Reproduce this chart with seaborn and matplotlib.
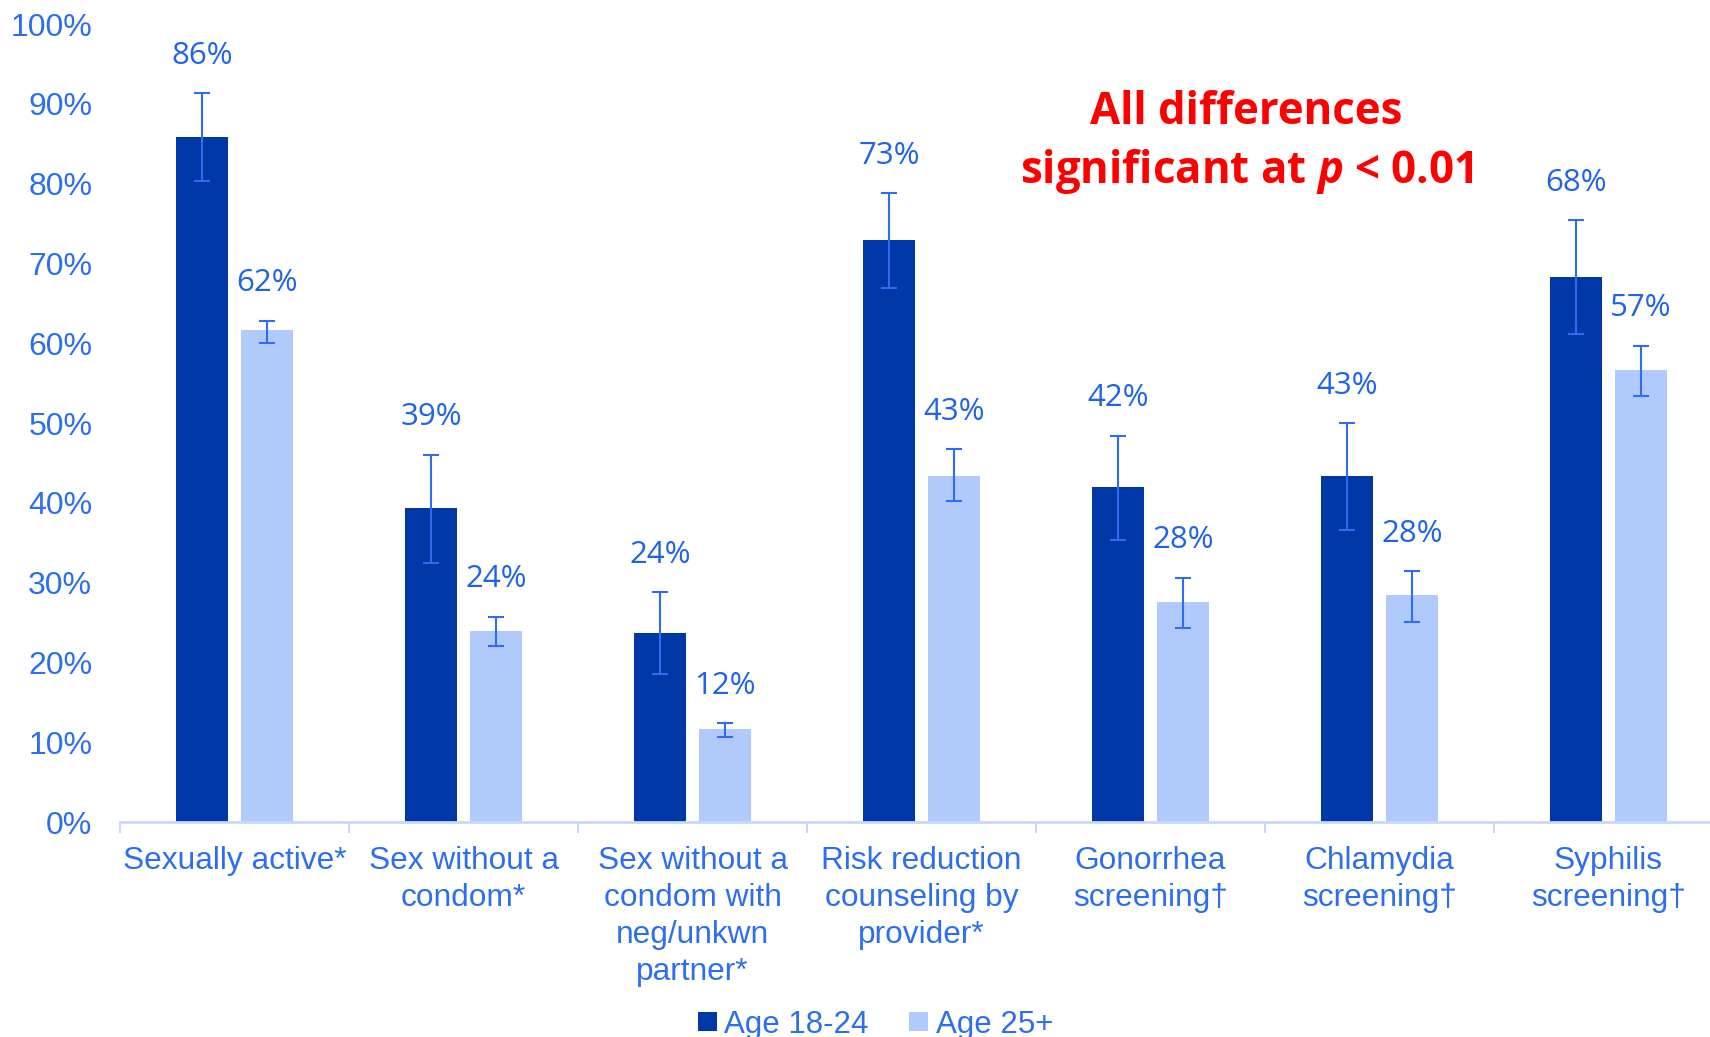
import matplotlib
matplotlib.use("Agg")
import matplotlib.pyplot as plt
from matplotlib.patches import Patch
import seaborn as sns
import pandas as pd
import numpy as np

categories = ["Sexually active*", "Sex without a\ncondom*", "Sex without a\ncondom with\nneg/unkwn\npartner*",
              "Risk reduction\ncounseling by\nprovider*", "Gonorrhea\nscreening\u2020", "Chlamydia\nscreening\u2020",
              "Syphilis\nscreening\u2020"]
groups = ["Age 18-24", "Age 25+"]
young = [85.8, 39.3, 23.7, 73.0, 42.0, 43.4, 68.3]
older = [61.6, 23.9, 11.6, 43.4, 27.6, 28.4, 56.7]
young_lo = [80.3, 32.5, 18.6, 66.9, 35.4, 36.6, 61.1]
young_hi = [91.3, 46.0, 28.8, 78.8, 48.4, 50.0, 75.4]
older_lo = [60.0, 22.0, 10.7, 40.2, 24.3, 25.1, 53.4]
older_hi = [62.8, 25.7, 12.4, 46.7, 30.6, 31.4, 59.7]
yticks = [0, 10, 20, 30, 40, 50, 60, 70, 80, 90, 100]

DARK = "#0038A8"
LIGHT = "#AFCAFB"
TXT = "#2B6EF2"
VAL = "#1F63EA"
ERR = "#2F6DF0"
AXIS = "#C8D9F8"

sns.set_theme(style="white")
plt.rcParams["font.family"] = ["Liberation Sans", "DejaVu Sans"]
plt.rcParams["mathtext.fontset"] = "custom"
plt.rcParams["mathtext.it"] = "Open Sans:bold:italic"
plt.rcParams["mathtext.rm"] = "Open Sans:bold"

df = pd.DataFrame({
    "category": categories * 2,
    "group": [groups[0]] * len(categories) + [groups[1]] * len(categories),
    "value": [v / 100 for v in young] + [v / 100 for v in older],
})

fig = plt.figure(figsize=(17.1, 10.37), dpi=100)
ax = fig.add_axes([0.0702, 0.2073, 0.9374, 0.7695])

sns.barplot(data=df, x="category", y="value", hue="group", order=categories, hue_order=groups,
            palette=[DARK, LIGHT], saturation=1, width=0.57, gap=0.21, errorbar=None,
            legend=False, ax=ax, edgecolor="none")

lows = [young_lo, older_lo]
highs = [young_hi, older_hi]
vals = [young, older]
bar_conts = list(ax.containers)
for ci, cont in enumerate(bar_conts):
    xs = [b.get_x() + b.get_width() / 2 for b in cont.patches]
    v = np.array(vals[ci]) / 100
    lo = np.array(lows[ci]) / 100
    hi = np.array(highs[ci]) / 100
    ax.errorbar(xs, v, yerr=[v - lo, hi - v], fmt="none", ecolor=ERR, elinewidth=1.5,
                capsize=6, capthick=1.5, zorder=5)
    for x, h, val in zip(xs, hi, vals[ci]):
        ax.text(x, h + 0.047, f"{round(val)}%", ha="center", va="center", color=VAL,
                fontsize=22.5, family=["Open Sans", "DejaVu Sans"])

ax.set_ylim(0, 1.0)
ax.set_xlim(-0.5, len(categories) - 0.5)
ax.set_yticks([t / 100 for t in yticks])
ax.set_yticklabels([f"{t}%" for t in yticks])
ax.set_xlabel("")
ax.set_ylabel("")
for s in ["top", "right", "left"]:
    ax.spines[s].set_visible(False)
ax.spines["bottom"].set_color(AXIS)
ax.spines["bottom"].set_linewidth(2)
ax.tick_params(axis="y", length=0, pad=20, labelsize=23, labelcolor=TXT)
ax.tick_params(axis="x", which="major", length=0, pad=17, labelsize=22.8, labelcolor=TXT)
ax.set_xticks(np.arange(-0.5, len(categories), 1.0), minor=True)
ax.tick_params(axis="x", which="minor", length=8, width=1.5, color=AXIS, bottom=True)
for lab in ax.get_xticklabels():
    lab.set_linespacing(1.31)

fig.text(0.729, 0.862, "All differences\nsignificant at $p$ < 0.01", ha="center", va="center",
         color="#FF0000", fontsize=31.5, fontweight="bold", family=["Open Sans", "DejaVu Sans"],
         linespacing=1.32)

handles = [Patch(facecolor=DARK, edgecolor="none"), Patch(facecolor=LIGHT, edgecolor="none")]
fig.legend(handles, groups, loc="center", bbox_to_anchor=(0.512, 0.012), ncol=2, frameon=False,
           fontsize=22.5, labelcolor=TXT, handlelength=0.6, handleheight=0.6, handletextpad=0.25,
           columnspacing=1.3)

fig.savefig("out.png", dpi=100)
